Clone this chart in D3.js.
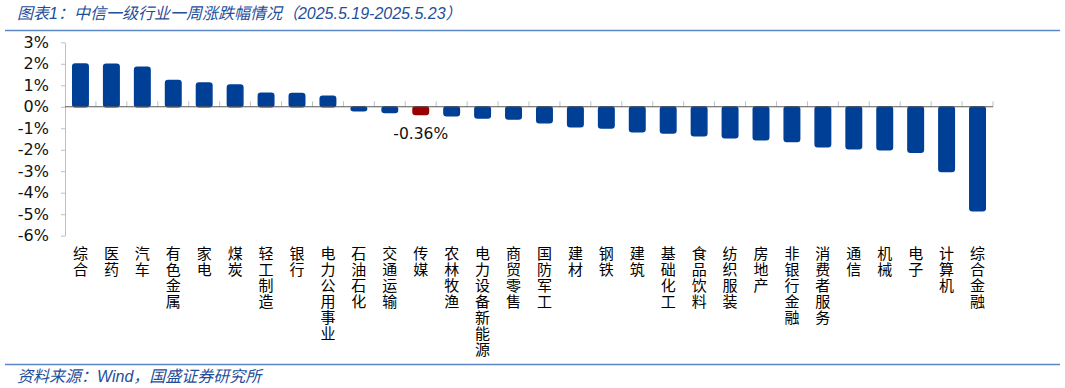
<!DOCTYPE html>
<html>
<head>
<meta charset="utf-8">
<script src="https://cdn.jsdelivr.net/npm/d3@7"></script>
<style>
  body { margin: 0; background: #fff; }
  svg { display: block; }
  .cat { writing-mode: vertical-rl; text-orientation: upright; }
</style>
</head>
<body>
<svg id="chart"></svg>
<script>
const categories = ['综合', '医药', '汽车', '有色金属', '家电', '煤炭', '轻工制造', '银行', '电力公用事业',
  '石油石化', '交通运输', '传媒', '农林牧渔', '电力设备新能源', '商贸零售', '国防军工', '建材', '钢铁',
  '建筑', '基础化工', '食品饮料', '纺织服装', '房地产', '非银行金融', '消费者服务', '通信', '机械',
  '电子', '计算机', '综合金融'];
const values = [1.99, 1.98, 1.84, 1.22, 1.11, 1.01, 0.63, 0.62, 0.49,
  -0.18, -0.27, -0.36, -0.42, -0.52, -0.57, -0.74, -0.93, -0.99,
  -1.16, -1.22, -1.35, -1.44, -1.53, -1.62, -1.86, -1.95, -2.00,
  -2.12, -3.01, -4.84];
const highlight = '传媒';
const yTicks = [3, 2, 1, 0, -1, -2, -3, -4, -5, -6];
const titleText = '图表1：中信一级行业一周涨跌幅情况（2025.5.19-2025.5.23）';
const sourceText = '资料来源：Wind，国盛证券研究所';

const W = 1065, H = 388;
const BLUE = '#003f96', RED = '#990000';
const cjk = '"Liberation Sans", "Noto Sans CJK SC", sans-serif';

const svg = d3.select('#chart').attr('width', W).attr('height', H);

// title + rules
svg.append('text')
  .attr('x', 17).attr('y', 19)
  .attr('font-family', cjk).attr('font-size', 16).attr('font-style', 'italic')
  .attr('fill', '#1f4e9a')
  .text(titleText);
svg.append('line').attr('x1', 5).attr('x2', 1060).attr('y1', 30.5).attr('y2', 30.5)
  .attr('stroke', '#5b87c6').attr('stroke-width', 1.5);
svg.append('line').attr('x1', 5).attr('x2', 1060).attr('y1', 364.5).attr('y2', 364.5)
  .attr('stroke', '#5b87c6').attr('stroke-width', 1.5);
svg.append('text')
  .attr('x', 17).attr('y', 382)
  .attr('font-family', cjk).attr('font-size', 16).attr('font-style', 'italic')
  .attr('fill', '#1f4e9a')
  .text(sourceText);

const x = d3.scaleBand()
  .domain(categories)
  .range([65, 993])
  .paddingInner(0.5)
  .paddingOuter(0.25);

const y = d3.scaleLinear()
  .domain([-6, 3])
  .range([235.7, 42.3]);

// y axis
const yAxis = svg.append('g')
  .attr('transform', 'translate(65,0)')
  .call(d3.axisLeft(y).tickValues(yTicks).tickFormat(d => d + '%').tickSize(4).tickSizeOuter(0).tickPadding(12));
yAxis.select('.domain').attr('stroke', '#bfbfbf');
yAxis.selectAll('.tick line').attr('stroke', '#bfbfbf');
yAxis.selectAll('.tick text')
  .attr('font-family', '"DejaVu Sans", Verdana, sans-serif')
  .attr('font-size', 16)
  .attr('fill', '#111');

// bars
svg.append('g').selectAll('rect')
  .data(categories)
  .join('rect')
  .attr('x', d => x(d))
  .attr('width', x.bandwidth())
  .attr('y', (d, i) => Math.min(y(values[i]), y(0)))
  .attr('height', (d, i) => Math.abs(y(values[i]) - y(0)))
  .attr('rx', 2.5)
  .attr('fill', d => d === highlight ? RED : BLUE)
  .attr('stroke', d => d === highlight ? RED : BLUE)
  .attr('stroke-width', 1.5);

// x axis line and boundary ticks
const zeroY = y(0);
svg.append('g').selectAll('line')
  .data(categories)
  .join('line')
  .attr('x1', d => x(d) + x.bandwidth() / 2 + x.step() / 2)
  .attr('x2', d => x(d) + x.bandwidth() / 2 + x.step() / 2)
  .attr('y1', zeroY - 5.5)
  .attr('y2', zeroY)
  .attr('stroke', '#bfbfbf');
svg.append('line')
  .attr('x1', 65).attr('x2', 993)
  .attr('y1', zeroY).attr('y2', zeroY)
  .attr('stroke', '#595959').attr('stroke-width', 1.2);

// category labels, written vertically
svg.append('g')
  .attr('font-family', '"Noto Sans CJK SC", sans-serif')
  .attr('font-size', 15)
  .attr('fill', '#000')
  .selectAll('text')
  .data(categories)
  .join('text')
  .attr('class', 'cat')
  .attr('x', d => x(d) + x.bandwidth() / 2)
  .attr('y', 246)
  .attr('letter-spacing', 1)
  .text(d => d);

// value label for highlighted bar
const hi = categories.indexOf(highlight);
svg.append('text')
  .attr('x', x(highlight) + x.bandwidth() / 2)
  .attr('y', y(values[hi]) + 24.5)
  .attr('text-anchor', 'middle')
  .attr('font-family', '"DejaVu Sans", Verdana, sans-serif')
  .attr('font-size', 15.5)
  .attr('fill', '#111')
  .text(values[hi].toFixed(2) + '%');
</script>
</body>
</html>
